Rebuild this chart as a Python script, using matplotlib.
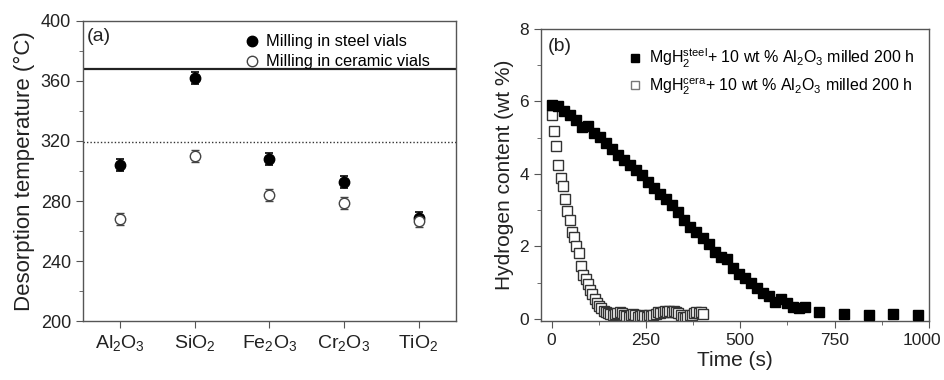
import numpy as np
import matplotlib
matplotlib.use("Agg")
import matplotlib.pyplot as plt
import matplotlib.transforms as mtransforms
from matplotlib.ticker import MultipleLocator
from matplotlib.lines import Line2D

plt.rcParams["font.family"] = ["Liberation Sans", "DejaVu Sans"]
plt.rcParams["mathtext.fontset"] = "custom"
plt.rcParams["mathtext.rm"] = "Liberation Sans"
plt.rcParams["mathtext.it"] = "Liberation Sans:italic"

# panel (a): desorption temperature per additive
additives = ["Al$_2$O$_3$", "SiO$_2$", "Fe$_2$O$_3$", "Cr$_2$O$_3$", "TiO$_2$"]
t_steel = [304, 362, 308, 293, 269]
t_ceramic = [268, 310, 284, 279, 267]
err_steel = [4, 4, 4, 4, 4]
err_ceramic = [4, 4, 4, 4, 4]
ref_solid = 368
ref_dotted = 319.5

# panel (b): hydrogen desorption curves
time_steel = [0, 16, 32, 48, 64, 80, 96, 112, 128, 144, 160, 176, 192, 208, 224,
              240, 256, 272, 288, 304, 320, 336, 352, 368, 384, 400, 416, 432,
              448, 464, 480, 496, 512, 528, 544, 560, 576, 592, 608, 624, 640,
              656, 672, 708, 774, 840, 906, 972]
h_steel = [5.90, 5.88, 5.75, 5.62, 5.50, 5.30, 5.31, 5.12, 5.02, 4.86, 4.69, 4.52,
           4.38, 4.24, 4.10, 3.96, 3.79, 3.62, 3.46, 3.30, 3.13, 2.96, 2.72, 2.53,
           2.40, 2.24, 2.08, 1.86, 1.72, 1.64, 1.40, 1.24, 1.12, 0.98, 0.85, 0.72,
           0.64, 0.48, 0.55, 0.44, 0.34, 0.30, 0.32, 0.20, 0.14, 0.11, 0.13, 0.12]

time_cera = [0, 6, 12, 18, 24, 30, 36, 42, 48, 54, 60, 66, 72, 78, 84, 90, 96, 102,
             108, 114, 120, 126, 132, 138, 144, 150, 156, 162, 168, 174, 180, 186,
             192, 198, 204, 210, 216, 222, 228, 234, 240, 246, 252, 258, 264, 270,
             276, 282, 288, 294, 300, 306, 312, 318, 324, 330, 336, 342, 348, 354,
             360, 366, 372, 378, 384, 390, 396, 402]
h_cera = [5.63, 5.18, 4.78, 4.25, 3.90, 3.66, 3.32, 2.99, 2.73, 2.40, 2.25, 2.00,
          1.82, 1.45, 1.20, 1.10, 0.95, 0.80, 0.68, 0.54, 0.45, 0.36, 0.30, 0.22,
          0.18, 0.15, 0.14, 0.12, 0.14, 0.17, 0.18, 0.16, 0.12, 0.08, 0.06, 0.10,
          0.14, 0.10, 0.06, 0.08, 0.12, 0.09, 0.06, 0.10, 0.08, 0.12, 0.14, 0.18,
          0.15, 0.20, 0.22, 0.18, 0.21, 0.20, 0.22, 0.18, 0.16, 0.10, 0.04, 0.02,
          0.06, 0.12, 0.10, 0.16, 0.18, 0.15, 0.20, 0.13]

spine_col = "#555555"
txt_col = "#222222"

fig = plt.figure(figsize=(9.45, 3.8), dpi=100)
ax1 = fig.add_axes([0.0875, 0.155, 0.395, 0.79])
ax2 = fig.add_axes([0.5725, 0.155, 0.4105, 0.7687])

for ax in (ax1, ax2):
    for s in ax.spines.values():
        s.set_color(spine_col)
        s.set_linewidth(1.0)
    ax.tick_params(which="both", direction="out", colors=spine_col,
                   labelcolor=txt_col, top=False, right=False)
    ax.tick_params(which="major", length=5)
    ax.tick_params(which="minor", length=3)

# ---- (a)
x = np.arange(1, len(additives) + 1)
ax1.axhline(ref_solid, color="#222222", lw=1.6, zorder=1)
ax1.axhline(ref_dotted, color="#333333", lw=1.0, ls=(0, (1, 1.5)), zorder=1)
ax1.errorbar(x, t_steel, yerr=err_steel, fmt="o", ms=7.5, color="black",
             mfc="black", mec="black", capsize=3, elinewidth=1.2, capthick=1.2,
             zorder=3)
ax1.errorbar(x, t_ceramic, yerr=err_ceramic, fmt="o", ms=7.5, color="#444444",
             mfc="white", mec="#444444", mew=1.0, capsize=3, elinewidth=1.0,
             capthick=1.0, zorder=3)
ax1.set_xlim(0.5, 5.5)
ax1.set_ylim(200, 400)
ax1.set_xticks(x)
ax1.set_xticklabels(additives, fontsize=14)
ax1.yaxis.set_major_locator(MultipleLocator(40))
ax1.yaxis.set_minor_locator(MultipleLocator(20))
ax1.tick_params(axis="y", labelsize=13)
ax1.set_ylabel("Desorption temperature (°C)", fontsize=16, color=txt_col)
ax1.text(0.012, 0.975, "(a)", transform=ax1.transAxes, fontsize=14,
         va="top", ha="left", color=txt_col)
h_a = [Line2D([], [], ls="none", marker="o", ms=7.5, mfc="black", mec="black"),
       Line2D([], [], ls="none", marker="o", ms=7.5, mfc="white", mec="#444444")]
ax1.legend(h_a, ["Milling in steel vials", "Milling in ceramic vials"],
           loc="upper left", bbox_to_anchor=(0.437, 0.955), frameon=False,
           fontsize=11.8, handlelength=0.8, handletextpad=0.45,
           labelspacing=0.3, borderaxespad=0, borderpad=0)

# ---- (b)
ax2.plot(time_steel, h_steel, ls="none", marker="s", ms=6.5, mfc="black",
         mec="black", zorder=3)
ax2.plot(time_cera, h_cera, ls="none", marker="s", ms=6.5, mfc="white",
         mec="#333333", mew=1.0, zorder=2)
ax2.set_xlim(-28, 1000)
ax2.set_ylim(-0.06, 8)
ax2.set_xticks([0, 250, 500, 750, 1000])
ax2.xaxis.set_minor_locator(MultipleLocator(125))
ax2.yaxis.set_major_locator(MultipleLocator(2))
ax2.yaxis.set_minor_locator(MultipleLocator(1))
ax2.tick_params(labelsize=12.5)
# nudge the last x label so it stays inside the figure
last = ax2.get_xticklabels()[-1]
last.set_transform(last.get_transform() +
                   mtransforms.ScaledTranslation(-0.07, 0, fig.dpi_scale_trans))
ax2.set_xlabel("Time (s)", fontsize=15, color=txt_col, labelpad=2)
ax2.set_ylabel("Hydrogen content (wt %)", fontsize=15, color=txt_col, labelpad=4)
ax2.text(0.018, 0.97, "(b)", transform=ax2.transAxes, fontsize=14,
         va="top", ha="left", color=txt_col)
h_b = [Line2D([], [], ls="none", marker="s", ms=5.5, mfc="black", mec="black"),
       Line2D([], [], ls="none", marker="s", ms=5.5, mfc="white", mec="#777777")]
ax2.legend(h_b, ["MgH$_2^{\\rm steel}$+ 10 wt % Al$_2$O$_3$ milled 200 h",
                 "MgH$_2^{\\rm cera}$+ 10 wt % Al$_2$O$_3$ milled 200 h"],
           loc="upper left", bbox_to_anchor=(0.226, 0.938), frameon=False,
           fontsize=11.5, handlelength=0.8, handletextpad=0.5,
           labelspacing=0.3, borderaxespad=0, borderpad=0)

fig.savefig("out.png", dpi=100)
